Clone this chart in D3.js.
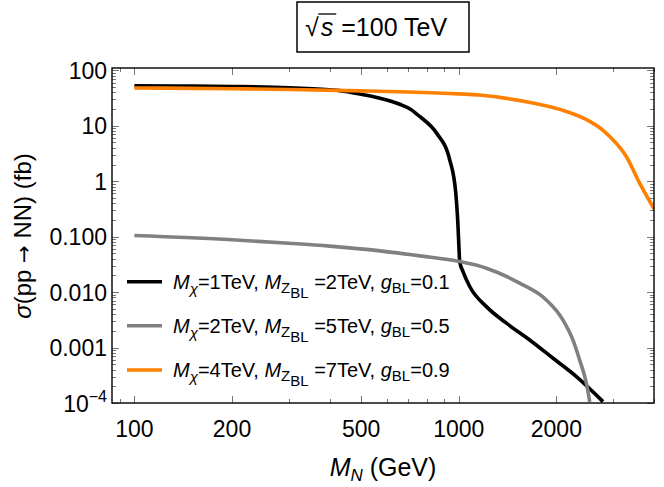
<!DOCTYPE html>
<html>
<head>
<meta charset="utf-8">
<script src="https://cdn.jsdelivr.net/npm/d3@7"></script>
<style>
  body { margin: 0; background: #fff; }
  svg text { font-family: "Liberation Sans", Arial, sans-serif; fill: #000; }
</style>
</head>
<body>
<svg id="chart" width="664" height="487"></svg>
<script>
"use strict";

// cross sections (GeV, fb)
var black_mass  = [100, 150, 200, 300, 400, 430, 500, 572, 658, 710, 758, 854, 938, 979, 995, 1002, 1007, 1031, 1081, 1217, 1403, 1655, 1954, 2306, 2785];
var black_sigma = [52.7, 52, 51, 48.5, 44.5, 43, 37.0, 31.3, 24.4, 19.9, 14.7, 7.38, 2.43, 0.618, 0.152, 0.06, 0.0355, 0.0234, 0.0126, 0.00547, 0.00275, 0.00137, 0.000641, 0.000299, 0.000106];

var grey_mass  = [100, 200, 300, 400, 572, 758, 1007, 1217, 1541, 1862, 2095, 2249, 2359, 2475, 2535];
var grey_sigma = [0.105, 0.088, 0.076, 0.0674, 0.0554, 0.045, 0.0355, 0.027, 0.0145, 0.00723, 0.00315, 0.00137, 0.000597, 0.000227, 0.000105];

var orange_mass  = [100, 200, 300, 500, 700, 1000, 1160, 1337, 1691, 2147, 2535, 2722, 2920, 3286, 3612, 4018];
var orange_sigma = [48, 46.5, 45, 42.5, 40.5, 37.5, 35.8, 32.5, 25.7, 18.1, 12.0, 9.2, 6.41, 2.79, 0.924, 0.305];

var x_major = [100, 200, 500, 1000, 2000];
var x_minor = [90, 300, 400, 600, 700, 800, 900, 3000, 4000];
var y_major = [1e-4, 1e-3, 1e-2, 1e-1, 1, 10, 100];
var y_labels = ["10", "0.001", "0.010", "0.100", "1", "10", "100"];

var series_names = ["black", "grey", "orange"];
var series_colors = ["#000000", "#808080", "#ff8000"];
var legend_mchi = ["1", "2", "4"];
var legend_mz = ["2", "5", "7"];
var legend_g = ["0.1", "0.5", "0.9"];

var svg = d3.select('#chart');

var margin = { left: 112, top: 68, right: 654, bottom: 403 };

var x = d3.scaleLog().domain([85.3, 4000]).range([margin.left, margin.right]);
var y = d3.scaleLog().domain([1e-4, 110]).range([margin.bottom, margin.top]);

svg.append('defs').append('clipPath').attr('id', 'plot-clip')
    .append('rect')
    .attr('x', margin.left).attr('y', margin.top)
    .attr('width', margin.right - margin.left).attr('height', margin.bottom - margin.top);

// ticks, Mathematica style: inside, on all four sides
var y_minor = [];
y_major.slice(0, -1).forEach(function( d ) {
    for ( var k = 2; k <= 9; k++ ) { y_minor.push( d * k ); }
});

var ticks = svg.append('g').classed('ticks', true).attr('stroke', '#777').attr('stroke-width', 1);

function x_ticks( values, len ) {
    values.forEach(function( v ) {
        var px = Math.round( x( v ) ) + 0.5;
        ticks.append('line').attr('x1', px).attr('x2', px).attr('y1', margin.bottom).attr('y2', margin.bottom - len);
        ticks.append('line').attr('x1', px).attr('x2', px).attr('y1', margin.top).attr('y2', margin.top + len);
    });
}
function y_ticks( values, len ) {
    values.forEach(function( v ) {
        var py = Math.round( y( v ) ) + 0.5;
        ticks.append('line').attr('y1', py).attr('y2', py).attr('x1', margin.left).attr('x2', margin.left + len);
        ticks.append('line').attr('y1', py).attr('y2', py).attr('x1', margin.right).attr('x2', margin.right - len);
    });
}
x_ticks( x_major, 7 );
x_ticks( x_minor, 4 );
y_ticks( y_major, 7 );
y_ticks( y_minor, 4 );

// curves
var line = d3.line()
    .x(function( d ) { return x( d[0] ); })
    .y(function( d ) { return y( d[1] ); })
    .curve( d3.curveMonotoneX );

var all_mass = [black_mass, grey_mass, orange_mass];
var all_sigma = [black_sigma, grey_sigma, orange_sigma];

var curves = svg.append('g').classed('curves', true).attr('clip-path', 'url(#plot-clip)');
series_names.forEach(function( name, i ) {
    var pts = all_mass[i].map(function( m, j ) { return [ m, all_sigma[i][j] ]; });
    curves.append('path')
        .datum( pts )
        .classed( name, true )
        .attr('fill', 'none')
        .attr('stroke', series_colors[i])
        .attr('stroke-width', 3.6)
        .attr('stroke-linejoin', 'round')
        .attr('d', line);
});

// frame
svg.append('rect')
    .attr('x', margin.left).attr('y', margin.top)
    .attr('width', margin.right - margin.left).attr('height', margin.bottom - margin.top)
    .attr('fill', 'none').attr('stroke', '#000').attr('stroke-width', 1.4);

// tick labels
svg.append('g').selectAll('text')
    .data( x_major )
    .enter().append('text')
        .attr('x', function( d ) { return x( d ); })
        .attr('y', 437)
        .attr('text-anchor', 'middle')
        .style('font-size', '23px')
        .text(function( d ) { return d; });

var ylab = svg.append('g').selectAll('text')
    .data( y_major )
    .enter().append('text')
        .attr('x', 107)
        .attr('y', function( d ) { return y( d ) + 8.5; })
        .attr('text-anchor', 'end')
        .style('font-size', '23px');
ylab.append('tspan').text(function( d, i ) { return y_labels[i]; });
ylab.filter(function( d ) { return d === 1e-4; })
    .append('tspan').attr('dy', -10).style('font-size', '16px').text('\u22124');

// axis titles
var xt = svg.append('text')
    .attr('x', (margin.left + margin.right) / 2)
    .attr('y', 476)
    .attr('text-anchor', 'middle')
    .style('font-size', '25px');
xt.append('tspan').style('font-style', 'italic').text('M');
xt.append('tspan').attr('dy', 5).style('font-size', '17px').style('font-style', 'italic').text('N');
xt.append('tspan').attr('dy', -5).text(' (GeV)');

var yt = svg.append('text')
    .attr('transform', 'translate(31,' + 236 + ') rotate(-90)')
    .attr('text-anchor', 'middle')
    .style('font-size', '24px');
yt.append('tspan').style('font-style', 'italic').text('\u03C3');
yt.append('tspan').text('(pp ');
yt.append('tspan').style('font-family', '"DejaVu Sans"').style('font-size', '21px').text('\u2192');
yt.append('tspan').text(' NN) (fb)');

// legend
var legend = svg.append('g').classed('legend', true);
series_names.forEach(function( name, i ) {
    var ly = [281.7, 325.7, 370][i];
    legend.append('line')
        .attr('x1', 127).attr('x2', 162).attr('y1', ly).attr('y2', ly)
        .attr('stroke', series_colors[i]).attr('stroke-width', 3.6);

    var t = legend.append('text').attr('x', 173).attr('y', ly + 7).style('font-size', '20px');
    t.append('tspan').style('font-style', 'italic').text('M');
    t.append('tspan').attr('dy', 5).style('font-size', '15px').style('font-style', 'italic').text('\u03C7');
    t.append('tspan').attr('dy', -5).text('=' + legend_mchi[i] + 'TeV, ');
    t.append('tspan').style('font-style', 'italic').text('M');
    t.append('tspan').attr('dy', 4).style('font-size', '15px').text('Z');
    t.append('tspan').attr('dy', 5).style('font-size', '15px').text('BL');
    t.append('tspan').attr('dy', -9).text(' =' + legend_mz[i] + 'TeV, ');
    t.append('tspan').style('font-style', 'italic').text('g');
    t.append('tspan').attr('dy', 4).style('font-size', '15px').text('BL');
    t.append('tspan').attr('dy', -4).text('=' + legend_g[i]);
});

// title box: sqrt(s) = 100 TeV
var title = svg.append('g').classed('title', true);
title.append('rect')
    .attr('x', 297).attr('y', 2).attr('width', 172).attr('height', 50)
    .attr('fill', '#fff').attr('stroke', '#000').attr('stroke-width', 1.5);

var rad = title.append('text').attr('x', 305).attr('y', 36).style('font-size', '25px').text('\u221A');
var rad_end = 305 + rad.node().getComputedTextLength();
var s_txt = title.append('text').attr('x', rad_end + 2).attr('y', 36).style('font-size', '25px').style('font-style', 'italic').text('s');
var s_end = rad_end + 2 + s_txt.node().getComputedTextLength();
title.append('line')
    .attr('x1', rad_end - 0.5).attr('x2', s_end + 3).attr('y1', 14).attr('y2', 14)
    .attr('stroke', '#000').attr('stroke-width', 1.3);
title.append('text').attr('x', s_end + 8).attr('y', 36).style('font-size', '25px').text('=100 TeV');
</script>
</body>
</html>
